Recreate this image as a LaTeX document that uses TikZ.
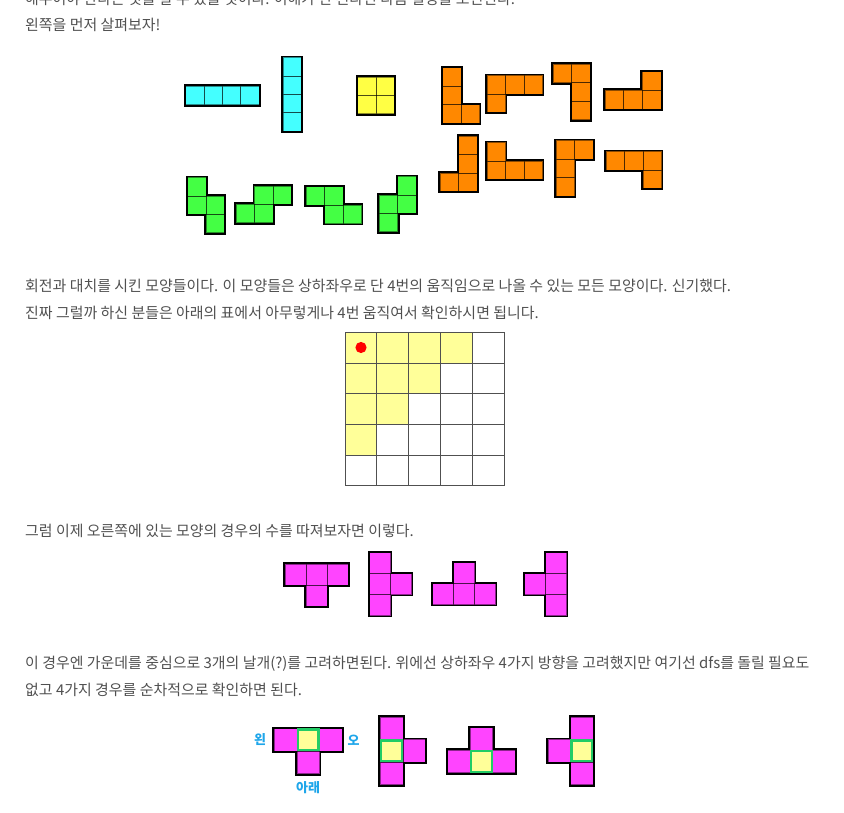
\documentclass[tikz,border=0pt]{standalone}
\usepackage{fontspec}
\setmainfont{Noto Sans CJK KR}
\definecolor{textgray}{HTML}{505050}
\definecolor{lblblue}{HTML}{1EA6EA}
\definecolor{pcyan}{HTML}{44FFFF}
\definecolor{pyellow}{HTML}{FFFF44}
\definecolor{pgreen}{HTML}{44FF44}
\definecolor{porange}{HTML}{FF8800}
\definecolor{pmagenta}{HTML}{FF44FF}
\definecolor{lightyel}{HTML}{FFFF99}
\definecolor{centergreen}{HTML}{22CC66}
\definecolor{gridline}{HTML}{505050}
\tikzset{
  txt/.style={anchor=base west, inner sep=0pt, text=textgray, font=\fontsize{14.95}{17}\selectfont},
  lbl/.style={inner sep=0pt, text=lblblue, font=\fontsize{13}{15}\selectfont\bfseries},
  outerline/.style={line width=3.8pt, black, line join=miter},
  innerline/.style={line width=0.6pt, black, opacity=0.45},
  gridstroke/.style={line width=1pt, gridline},
  centerbox/.style={line width=2.3pt, centergreen},
}
\newcommand\tetro[5]{%
  \foreach \c/\r in {#5}{\draw[outerline] ({#2+\c*#4},{#3+\r*#4}) rectangle ++(#4,#4);}
  \foreach \c/\r in {#5}{\fill[#1] ({#2+\c*#4},{#3+\r*#4}) rectangle ++(#4,#4);}
  \foreach \c/\r in {#5}{\draw[innerline] ({#2+\c*#4},{#3+\r*#4}) rectangle ++(#4,#4);}
}
\newcommand\centercell[4]{%
  \fill[lightyel] ({#1+#3*22.6},{#2+#4*22.6}) rectangle ++(22.6,22.6);
  \draw[centerbox] ({#1+#3*22.6+1},{#2+#4*22.6+1}) rectangle ++(20.6,20.6);
}
\begin{document}
\begin{tikzpicture}[x=1pt,y=-1pt]
\useasboundingbox (0,0) rectangle (844,813);
\fill[white] (0,0) rectangle (844,813);

% texts
\node[txt] (t0) at (25,5) {해주어야 한다는 것을 알 수 있을 것이다. 이해가 안 된다면 다음 설명을 보면된다.};
\node[txt] (t1) at (25,31) {왼쪽을 먼저 살펴보자!};
\node[txt] (t2) at (25,291) {회전과 대치를 시킨 모양들이다. 이 모양들은 상하좌우로 단 4번의 움직임으로 나올 수 있는 모든 모양이다. 신기했다.};
\node[txt] (t3) at (25,318.5) {진짜 그럴까 하신 분들은 아래의 표에서 아무렇게나 4번 움직여서 확인하시면 됩니다.};
\node[txt] (t4) at (25,536) {그럼 이제 오른쪽에 있는 모양의 경우의 수를 따져보자면 이렇다.};
\node[txt] (t5) at (25,668) {이 경우엔 가운데를 중심으로 3개의 날개(?)를 고려하면된다. 위에선 상하좌우 4가지 방향을 고려했지만 여기선 dfs를 돌릴 필요도};
\node[txt] (t6) at (25,695.5) {없고 4가지 경우를 순차적으로 확인하면 된다.};

% I and O pieces
\tetro{pcyan}{185.5}{86.3}{18.4}{0/0,1/0,2/0,3/0}
\tetro{pcyan}{282.8}{57.5}{18.4}{0/0,0/1,0/2,0/3}
\tetro{pyellow}{357.6}{77}{18.4}{0/0,1/0,0/1,1/1}
% S / Z pieces
\tetro{pgreen}{187.5}{177.5}{18.4}{0/0,0/1,1/1,1/2}
\tetro{pgreen}{236}{186}{18.4}{1/0,2/0,0/1,1/1}
\tetro{pgreen}{306.3}{186.8}{18.4}{0/0,1/0,1/1,2/1}
\tetro{pgreen}{379.3}{176.5}{18.4}{1/0,0/1,1/1,0/2}
% L / J pieces
\tetro{porange}{442.5}{67.8}{18.5}{0/0,0/1,0/2,1/2}
\tetro{porange}{487}{75.5}{18.5}{0/0,1/0,2/0,0/1}
\tetro{porange}{553}{64.2}{18.5}{0/0,1/0,1/1,1/2}
\tetro{porange}{605}{71.8}{18.6}{2/0,0/1,1/1,2/1}
\tetro{porange}{440.2}{136}{18.5}{1/0,1/1,0/2,1/2}
\tetro{porange}{487}{142.5}{18.5}{0/0,0/1,1/1,2/1}
\tetro{porange}{556}{140.5}{18.5}{0/0,1/0,0/1,0/2}
\tetro{porange}{606}{151.5}{18.5}{0/0,1/0,2/0,2/1}

% 5x5 grid
\foreach \c/\r in {0/0,1/0,2/0,3/0,0/1,1/1,2/1,0/2,1/2,0/3}
  {\fill[lightyel] ({345+\c*31.9},{332.3+\r*30.7}) rectangle ++(31.9,30.7);}
\foreach \i in {0,...,5}{
  \draw[gridstroke] ({345+\i*31.9},332.3) -- ({345+\i*31.9},485.8);
  \draw[gridstroke] (345,{332.3+\i*30.7}) -- (504.5,{332.3+\i*30.7});
}
\fill[red] (361,347.5) circle (5.6);

% T pieces
\tetro{pmagenta}{285}{564.3}{21}{0/0,1/0,2/0,1/1}
\tetro{pmagenta}{369.5}{552.5}{21}{0/0,0/1,0/2,1/1}
\tetro{pmagenta}{432.5}{562.5}{21}{1/0,0/1,1/1,2/1}
\tetro{pmagenta}{524.5}{552.5}{21}{1/0,1/1,1/2,0/1}

% T pieces with centre
\tetro{pmagenta}{274.3}{728.5}{22.6}{0/0,1/0,2/0,1/1}
\centercell{274.3}{728.5}{1}{0}
\tetro{pmagenta}{380.2}{716.8}{22.6}{0/0,0/1,0/2,1/1}
\centercell{380.2}{716.8}{0}{1}
\tetro{pmagenta}{447.5}{727.5}{22.6}{1/0,0/1,1/1,2/1}
\centercell{447.5}{727.5}{1}{1}
\tetro{pmagenta}{547.9}{716.8}{22.6}{1/0,1/1,1/2,0/1}
\centercell{547.9}{716.8}{1}{1}

\node[lbl] (left) at (260,740) {왼};
\node[lbl] (right) at (353.5,740) {오};
\node[lbl] (down) at (308,787.5) {아래};
\end{tikzpicture}
\end{document}
